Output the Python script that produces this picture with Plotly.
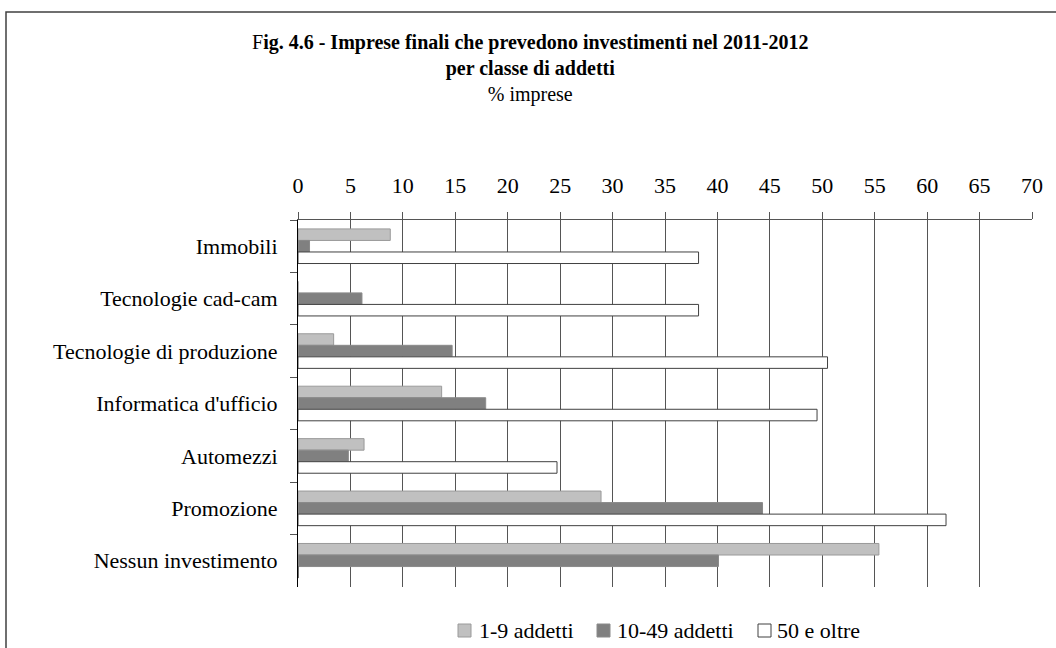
import plotly.graph_objects as go

categories = ["Immobili", "Tecnologie cad-cam", "Tecnologie di produzione",
              "Informatica d'ufficio", "Automezzi", "Promozione", "Nessun investimento"]
series_names = ["1-9 addetti", "10-49 addetti", "50 e oltre"]
v_1_9 = [8.8, 0, 3.4, 13.7, 6.3, 28.9, 55.4]
v_10_49 = [1.1, 6.1, 14.7, 17.9, 4.8, 44.3, 40.1]
v_50 = [38.2, 38.2, 50.5, 49.5, 24.7, 61.8, 0]
x_ticks = list(range(0, 75, 5))

fills = ["#C0C0C0", "#808080", "#FFFFFF"]
borders = ["#9A9A9A", "#8A8A8A", "#404040"]

FONT = "Liberation Serif, Times New Roman, serif"
FS = 22

# plot area in pixels (for paper conversions of decorations)
L, R, T, B = 298, 1032, 220, 587
W, H = R - L, B - T


def px(x):
    return (x - L) / W


def py(y):
    return (B - y) / H


fig = go.Figure()
for name, vals, fc, bc in zip(series_names, [v_1_9, v_10_49, v_50], fills, borders):
    fig.add_trace(go.Bar(
        y=categories, x=vals, name=name, orientation="h",
        marker=dict(color=fc, line=dict(color=bc, width=1)),
        showlegend=False,
    ))

# custom compact legend (square + label), as in the reference
legend_square_x = [458, 597, 758]
legend_text_x = [477, 615, 775]
shapes = [
    dict(type="rect", xref="paper", yref="paper",
         x0=px(6), x1=1.2, y0=-0.5, y1=py(12),
         line=dict(color="#404040", width=1.5), fillcolor="rgba(0,0,0,0)", layer="below"),
]
annotations = []
for name, fc, bc, sx, tx in zip(series_names, fills, borders, legend_square_x, legend_text_x):
    shapes.append(dict(type="rect", xref="paper", yref="paper",
                       x0=px(sx), x1=px(sx + 13), y0=py(637), y1=py(624),
                       line=dict(color=bc if fc != "#FFFFFF" else "#404040", width=1),
                       fillcolor=fc))
    annotations.append(dict(text=name, xref="paper", yref="paper", x=px(tx), y=py(630),
                            xanchor="left", yanchor="middle", showarrow=False,
                            font=dict(family=FONT, size=FS, color="black")))

annotations.append(
    dict(text=("F<b>ig. 4.6 - Imprese finali che prevedono investimenti nel 2011-2012</b>"
               "<br><b>per classe di addetti</b><br>% imprese"),
         xref="paper", yref="paper", x=px(530), y=py(68), xanchor="center", yanchor="middle",
         align="center", showarrow=False, font=dict(family=FONT, size=20, color="black")))

fig.update_layout(
    width=1056, height=648,
    paper_bgcolor="white", plot_bgcolor="white",
    margin=dict(l=L, r=1056 - R, t=T, b=648 - B),
    barmode="group", bargap=0.34, bargroupgap=0,
    font=dict(family=FONT, size=FS, color="black"),
    showlegend=False,
    xaxis=dict(side="top", range=[0, 70], tickvals=x_ticks, ticktext=[str(t) for t in x_ticks],
               showgrid=True, gridcolor="#555555", gridwidth=1,
               showline=True, linecolor="#555555", linewidth=1,
               ticks="outside", ticklen=7, tickcolor="#555555",
               ticklabelstandoff=10, zeroline=False,
               tickfont=dict(family=FONT, size=FS)),
    yaxis=dict(autorange="reversed", showgrid=False,
               showline=True, linecolor="black", linewidth=1,
               ticks="outside", tickson="boundaries", ticklen=7, tickcolor="#555555",
               tickfont=dict(family=FONT, size=FS), ticklabelstandoff=15),
    annotations=annotations,
    shapes=shapes,
)

fig.write_html("out.html", config={"displayModeBar": False},
               post_script="document.body.style.margin='0';document.body.style.overflow='hidden';")
